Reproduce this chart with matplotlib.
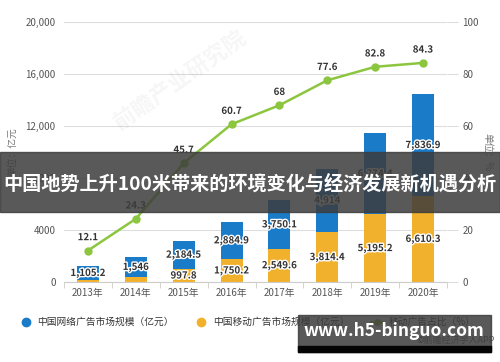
import matplotlib
matplotlib.use("Agg")
import matplotlib.pyplot as plt
import matplotlib.patheffects as pe
from matplotlib.lines import Line2D
from matplotlib.patches import Rectangle

plt.rcParams['font.family'] = ['Noto Sans CJK SC', 'DejaVu Sans']

# 数据
years = ["2013年", "2014年", "2015年", "2016年", "2017年", "2018年", "2019年", "2020年"]
network = [1105.2, 1546, 2184.5, 2884.9, 3750.1, 4914, 6274.4, 7836.9]
mobile = [133.7, 375.7, 997.8, 1750.2, 2549.6, 3814.4, 5195.2, 6610.3]
share = [12.1, 24.3, 45.7, 60.7, 68, 77.6, 82.8, 84.3]
left_ticks = [0, 4000, 8000, 12000, 16000, 20000]
left_labels = ["0", "4000", "8000", "12,000", "16,000", "20,000"]
right_ticks = [0, 20, 40, 60, 80, 100]

blue = "#1a7bc9"
yellow = "#f2b12c"
green = "#8cc63f"
txt = "#333333"


def fmt(v):
    s = f"{v:,.1f}"
    return s[:-2] if s.endswith(".0") else s


fig = plt.figure(figsize=(5, 3.62), dpi=100)
ax = fig.add_axes([0.128, 0.221, 0.766, 0.718])
ax2 = ax.twinx()

x = list(range(len(years)))
ax.bar(x, mobile, width=0.46, color=yellow, zorder=2)
ax.bar(x, network, width=0.46, bottom=mobile, color=blue, zorder=2)

outline = [pe.withStroke(linewidth=2, foreground="white")]
for i in x:
    # 太小的黄色段不标注
    if mobile[i] > 600:
        ax.text(i, mobile[i] / 2, fmt(mobile[i]), ha="center", va="center",
                fontsize=7, fontweight="bold", color=txt, path_effects=outline, zorder=4)
    ax.text(i, mobile[i] + network[i] / 2, fmt(network[i]), ha="center", va="center",
            fontsize=7, fontweight="bold", color=txt, path_effects=outline, zorder=4)

ax.set_xlim(-0.5, 7.5)
ax.set_ylim(0, 20000)
ax.set_yticks(left_ticks)
ax.set_yticklabels(left_labels)
ax.set_xticks(x)
ax.set_xticklabels(years)
ax.set_xticks([i + 0.5 for i in range(-1, 8)], minor=True)
ax.tick_params(axis="x", which="major", length=0, labelsize=7, colors="#555555", pad=4)
ax.tick_params(axis="x", which="minor", length=4, color="#cccccc")
ax.tick_params(axis="y", length=0, labelsize=7, colors="#555555", pad=6)
ax.grid(axis="y", color="#dddddd", linewidth=0.8, zorder=0)
for s in ["top", "left", "right"]:
    ax.spines[s].set_visible(False)
ax.spines["bottom"].set_color("#cccccc")
ax.set_ylabel("单位：亿元", fontsize=7, color="#777777", labelpad=6)

ax2.plot(x, share, color=green, linewidth=1.8, marker="o", markersize=5, zorder=5)
for i in x:
    ax2.annotate(f"{share[i]:g}", (i, share[i]), textcoords="offset points", xytext=(0, 6),
                 ha="center", va="bottom", fontsize=7, fontweight="bold", color=txt,
                 path_effects=outline)
ax2.set_ylim(0, 100)
ax2.set_yticks(right_ticks)
ax2.tick_params(axis="y", length=8, color="#dddddd", labelsize=7, colors="#555555", pad=3)
for s in ["top", "left", "right", "bottom"]:
    ax2.spines[s].set_visible(False)
ax2.set_ylabel("单位：%", fontsize=7, color="#777777", rotation=-90, labelpad=10)

# 水印
fig.text(0.36, 0.78, "前瞻产业研究院", fontsize=16, color="#000000", alpha=0.04,
         rotation=35, ha="center", va="center", fontweight="bold")

# 图例
handles = [
    Line2D([], [], marker="o", linestyle="", color=blue, markersize=6),
    Line2D([], [], marker="o", linestyle="", color=yellow, markersize=6),
    Line2D([], [], marker="o", color=green, markersize=4, linewidth=1.8),
]
labels = ["中国网络广告市场规模（亿元）", "中国移动广告市场规模（亿元）", "移动广告占比（%）"]
fig.legend(handles, labels, loc="center", bbox_to_anchor=(0.495, 0.11), ncol=3, frameon=False,
           fontsize=7, labelcolor=txt, handlelength=1.2, columnspacing=2.2, handletextpad=0.6)

fig.text(0.99, 0.06, "©前瞻经济学人APP", fontsize=6.5, color="#666666", ha="right", va="center")

# 标题横幅
fig.patches.append(Rectangle((0, 1 - 212 / 362), 1, 60 / 362, transform=fig.transFigure,
                             color="#3c3c3c", alpha=0.85, zorder=10))
fig.text(0.5, 1 - 184 / 362, "中国地势上升100米带来的环境变化与经济发展新机遇分析",
         fontsize=13.8, fontweight="bold", color="white", ha="center", va="center", zorder=11)

# 网址水印
fig.patches.append(Rectangle((298 / 500, 1 - 352 / 362), 193 / 500, 37 / 362,
                             transform=fig.transFigure, color="#3c3c3c", alpha=0.85, zorder=10))
fig.patches.append(Rectangle((298 / 500, 1 - 352 / 362), 193 / 500, 6 / 362,
                             transform=fig.transFigure, color="#050505", zorder=10))
fig.text(394 / 500, 1 - 331 / 362, "www.h5-binguo.com", fontsize=12.5, fontweight="bold",
         color="white", ha="center", va="center", zorder=11)

fig.savefig("out.png", dpi=100)
